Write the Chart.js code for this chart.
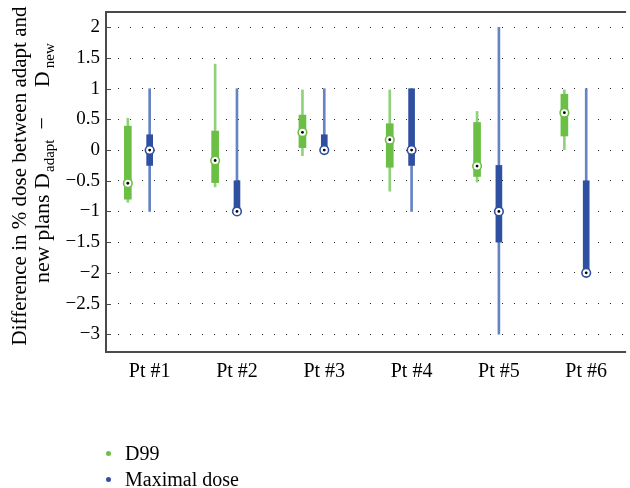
<!DOCTYPE html>
<html>
<head>
<meta charset="utf-8">
<script src="https://cdn.jsdelivr.net/npm/chart.js@4.4.1/dist/chart.umd.min.js"></script>
<style>
  html, body { margin: 0; padding: 0; background: #fff; overflow: hidden; }
  #wrap { position: relative; width: 630px; height: 488px; }
  #legend { position: absolute; left: 103px; top: 440px; font-family: "Liberation Serif", serif; font-size: 20px; color: #000; }
  #legend .row { display: flex; align-items: center; height: 26px; }
  #legend .dot { width: 5px; height: 5px; border-radius: 50%; margin-right: 14px; margin-left: 3px; }
</style>
</head>
<body>
<div id="wrap">
  <canvas id="c" width="630" height="488"></canvas>
  <div id="legend"></div>
</div>
<script>
// ---- data ----
const categories = ['Pt #1', 'Pt #2', 'Pt #3', 'Pt #4', 'Pt #5', 'Pt #6'];
const seriesNames = ['D99', 'Maximal dose'];

const d99Min    = [-0.85, -0.60, -0.09, -0.67, -0.52, 0.00];
const d99Q1     = [-0.80, -0.53,  0.04, -0.28, -0.43, 0.23];
const d99Median = [-0.54, -0.17,  0.29,  0.17, -0.26, 0.61];
const d99Q3     = [ 0.39,  0.31,  0.57,  0.43,  0.45, 0.91];
const d99Max    = [ 0.52,  1.40,  0.98,  0.98,  0.63, 0.98];

const maxMin    = [-1.00, -1.00, 0.00, -1.00, -3.00, -2.00];
const maxQ1     = [-0.25, -1.00, 0.00, -0.25, -1.50, -2.00];
const maxMedian = [ 0.00, -1.00, 0.00,  0.00, -1.00, -2.00];
const maxQ3     = [ 0.25, -0.50, 0.25,  1.00, -0.25, -0.50];
const maxMax    = [ 1.00,  1.00, 1.00,  1.00,  2.00,  1.00];

const yTicks = [-3, -2.5, -2, -1.5, -1, -0.5, 0, 0.5, 1, 1.5, 2];

// ---- styles ----
const greenBox = '#6cbf45', greenWhisk = '#8fd27a';
const blueBox = '#2f4fa0', blueWhisk = '#6683c4';
const OFF_D99 = -0.25, OFF_MAX = 0;
const serif = '"Liberation Serif", "Times New Roman", serif';

function range(lo, hi, off) { return lo.map((v, i) => ({ x: i + 1 + off, y: [v, hi[i]] })); }
function pts(vals, off) { return vals.map((v, i) => ({ x: i + 1 + off, y: v })); }

function barSet(label, lo, hi, off, color, thick, order) {
  return { type: 'bar', label, data: range(lo, hi, off), backgroundColor: color, borderWidth: 0,
           barThickness: thick, grouped: false, order, borderSkipped: false };
}
function ringSet(label, vals, off, color) {
  return { type: 'line', label, data: pts(vals, off), showLine: false, pointRadius: 4.3,
           pointBackgroundColor: '#fff', pointBorderColor: color, pointBorderWidth: 1.6, order: 1 };
}
function dotSet(label, vals, off) {
  return { type: 'line', label, data: pts(vals, off), showLine: false, pointRadius: 1.4,
           pointBackgroundColor: '#000', pointBorderWidth: 0, order: 0 };
}

const framePlugin = {
  id: 'frame',
  afterDraw(chart) {
    const { ctx, chartArea: a, scales } = chart;
    ctx.save();
    ctx.strokeStyle = '#4a4a4a';
    ctx.lineWidth = 2;
    ctx.beginPath();
    ctx.moveTo(a.right + 2, a.top); ctx.lineTo(a.left, a.top);
    ctx.lineTo(a.left, a.bottom); ctx.lineTo(a.right + 2, a.bottom);
    ctx.stroke();
    // inward tick marks
    ctx.lineWidth = 1.2;
    ctx.beginPath();
    scales.y.ticks.forEach(t => {
      const y = Math.round(scales.y.getPixelForValue(t.value)) + 0.5;
      ctx.moveTo(a.left, y); ctx.lineTo(a.left + 5, y);
    });
    ctx.stroke();
    // y axis title with subscripts: [text, isSub, gapBefore]
    const lines = [
      { bx: 26, cy: 176, big: 21, small: 14, segs: [['Difference in % dose between adapt and', 0, 0]] },
      { bx: 49, startY: 283, big: 22, small: 15,
        segs: [['new plans D', 0, 0], ['adapt', 1, 1], ['\u2212', 0, 10], ['D', 0, 30], ['new', 1, 3]] }
    ];
    ctx.fillStyle = '#000';
    ctx.textBaseline = 'alphabetic';
    ctx.textAlign = 'left';
    lines.forEach(l => {
      let total = 0;
      l.segs.forEach(s => { ctx.font = (s[1] ? l.small : l.big) + 'px ' + serif; total += s[2] + ctx.measureText(s[0]).width; });
      ctx.save();
      const startY = l.startY !== undefined ? l.startY : l.cy + total / 2;
      ctx.translate(l.bx, startY);
      ctx.rotate(-Math.PI / 2);
      let x = 0;
      l.segs.forEach(s => {
        ctx.font = (s[1] ? l.small : l.big) + 'px ' + serif;
        x += s[2];
        ctx.fillText(s[0], x, s[1] ? 5 : 0);
        x += ctx.measureText(s[0]).width;
      });
      ctx.restore();
    });
    ctx.restore();
  }
};

new Chart(document.getElementById('c'), {
  type: 'bar',
  data: {
    datasets: [
      dotSet('d99-med-dot', d99Median, OFF_D99),
      dotSet('max-med-dot', maxMedian, OFF_MAX),
      ringSet('d99-med', d99Median, OFF_D99, greenBox),
      ringSet('max-med', maxMedian, OFF_MAX, blueBox),
      barSet(seriesNames[0], d99Q1, d99Q3, OFF_D99, greenBox, 7, 2),
      barSet(seriesNames[1], maxQ1, maxQ3, OFF_MAX, blueBox, 6, 2),
      barSet('d99-whisker', d99Min, d99Max, OFF_D99, greenWhisk, 2, 3),
      barSet('max-whisker', maxMin, maxMax, OFF_MAX, blueWhisk, 2, 3)
    ]
  },
  options: {
    responsive: false,
    animation: false,
    events: [],
    layout: { padding: { top: 12, left: 0, right: 0, bottom: 0 } },
    plugins: { legend: { display: false }, tooltip: { enabled: false } },
    scales: {
      x: {
        type: 'linear', min: 0.5, max: 6.434, offset: false,
        afterFit: s => { s.height = 136; s.paddingLeft = 0; s.paddingRight = 0; },
        afterBuildTicks: s => { s.ticks = categories.map((c, i) => ({ value: i + 1 })); },
        ticks: { callback: v => categories[v - 1], color: '#000', padding: 8, maxRotation: 0,
                 font: { family: serif, size: 20 } },
        grid: { display: false, drawTicks: false },
        border: { display: false }
      },
      y: {
        type: 'linear', min: -3.29, max: 2.25,
        afterFit: s => { s.width = 106; s.paddingTop = 0; s.paddingBottom = 0; },
        afterBuildTicks: s => { s.ticks = yTicks.map(v => ({ value: v })); },
        ticks: { callback: v => (v < 0 ? '\u2212' + Math.abs(v) : String(v)), color: '#000', padding: 6,
                 font: { family: serif, size: 19 } },
        grid: { color: '#222', lineWidth: 1, drawTicks: false },
        border: { display: false, dash: [1, 11], dashOffset: 0 }
      }
    }
  },
  plugins: [framePlugin]
});

// HTML legend
const legendEl = document.getElementById('legend');
[[seriesNames[0], greenBox], [seriesNames[1], blueBox]].forEach(([name, col]) => {
  const row = document.createElement('div');
  row.className = 'row';
  const dot = document.createElement('span');
  dot.className = 'dot';
  dot.style.background = col;
  const txt = document.createElement('span');
  txt.textContent = name;
  row.appendChild(dot); row.appendChild(txt);
  legendEl.appendChild(row);
});
</script>
</body>
</html>
